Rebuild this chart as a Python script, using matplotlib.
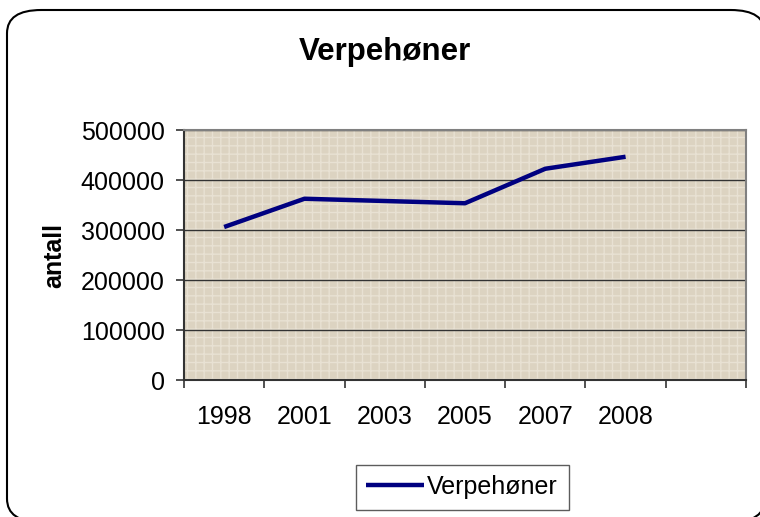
import matplotlib.pyplot as plt
from matplotlib.patches import FancyBboxPatch, Rectangle

# data
years = ['1998', '2001', '2003', '2005', '2007', '2008']
hens = [306000, 362500, 358000, 353500, 422500, 446500]
y_ticks = [0, 100000, 200000, 300000, 400000, 500000]
n_slots = 7  # excel leaves an empty category slot on the right

plt.rcParams['font.family'] = ['Liberation Sans', 'DejaVu Sans']

W, H = 760, 517
fig = plt.figure(figsize=(W / 100, H / 100), dpi=100)

# rounded chart border (runs off the canvas at the right/bottom)
border = FancyBboxPatch((7 / W, 1 - 522 / H), (765 - 7) / W, (522 - 10) / H,
                        boxstyle='round,pad=0,rounding_size=0.045',
                        transform=fig.transFigure, facecolor='white',
                        edgecolor='black', linewidth=1.5, zorder=-1)
fig.patches.append(border)

ax = fig.add_axes([184 / W, 1 - 380 / H, (746 - 184) / W, (380 - 130) / H])
ax.set_zorder(2)
ax.set_facecolor('#dcd3c1')
# light weave texture over the plot area
ax.add_patch(Rectangle((0, 0), 1, 1, transform=ax.transAxes, facecolor='none',
                       edgecolor='#e8e1d3', hatch='++', linewidth=0, zorder=0.5))

x = list(range(len(years)))
ax.plot(x, hens, color='#000080', linewidth=3.2, solid_capstyle='butt',
        label='Verpehøner', zorder=3)

ax.set_xlim(-0.5, n_slots - 0.5)
ax.set_ylim(0, 500000)
ax.set_yticks(y_ticks)
ax.set_yticklabels([str(v) for v in y_ticks])
ax.set_xticks(x)
ax.set_xticklabels(years)
ax.set_xticks([i - 0.5 for i in range(n_slots + 1)], minor=True)

ax.tick_params(axis='x', which='major', length=0, pad=18, labelsize=18)
ax.tick_params(axis='x', which='minor', length=6, width=1.2, direction='out', color='#333333')
ax.tick_params(axis='y', length=6, width=1.2, direction='out', color='#333333',
               pad=8, labelsize=18)

ax.grid(axis='y', color='#333333', linewidth=1.0, zorder=1)
ax.set_axisbelow(True)

for side in ['top', 'right']:
    ax.spines[side].set_color('#808080')
    ax.spines[side].set_linewidth(1.5)
for side in ['left', 'bottom']:
    ax.spines[side].set_color('#333333')
    ax.spines[side].set_linewidth(1.5)

ax.set_ylabel('antall', fontsize=18, fontweight='bold', labelpad=10)
fig.text(385 / W, 1 - 52 / H, 'Verpehøner', ha='center', va='center',
         fontsize=22.5, fontweight='bold')

leg = ax.legend(loc='center', bbox_to_anchor=(462 / W, 1 - 487 / H),
                bbox_transform=fig.transFigure, fontsize=18, frameon=True,
                fancybox=False, edgecolor='#333333', handlelength=2.3,
                handletextpad=0.15, borderpad=0.42, borderaxespad=0)
leg.get_frame().set_linewidth(1.0)

fig.savefig('out.png', dpi=100)
